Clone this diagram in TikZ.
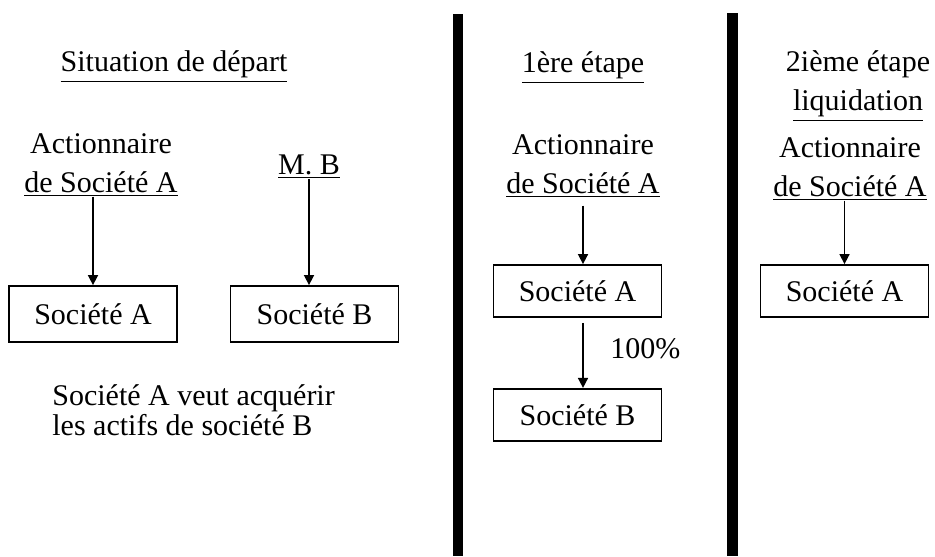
\documentclass[tikz,border=0pt]{standalone}
\usepackage{fontspec}
\setmainfont{Liberation Serif}
\usetikzlibrary{arrows.meta,positioning}

\begin{document}
\begin{tikzpicture}[
        x=0.5pt, y=-0.5pt,
        every node/.style={font=\fontsize{15}{19.5}\selectfont},
        txt/.style={align=center, inner sep=0pt, anchor=base},
        firma/.style={draw, line width=0.9pt, minimum width=84pt, minimum height=28pt, inner sep=0pt},
        arr/.style={-{Triangle[length=5pt,width=5pt]}, line width=0.8pt}
    ]
        \useasboundingbox (0,0) rectangle (935,556);

        % separateurs
        \fill (453,14) rectangle (463,556);
        \fill (727,13) rectangle (738,556);

        % situation de depart
        \node[txt] (titre1) at (174,72) {\underline{Situation de départ}};
        \node[txt] (act1) at (101,192) {Actionnaire\\\underline{de Société A}};
        \node[txt] (mb) at (309,174) {\underline{M. B}};
        \node[firma] (socA1) at (93,314) {Société A};
        \node[firma] (socB1) at (314.5,314) {Société B};
        \node[anchor=base west, align=left, inner sep=0pt, font=\fontsize{15}{15}\selectfont] (but) at (52,435) {Société A veut acquérir\\les actifs de société B};

        \draw[arr] (act1.south -| socA1.north) -- (socA1.north);
        \draw[arr] (mb.south) -- (mb.south |- socB1.north);

        % 1ere etape
        \node[txt] (titre2) at (583,73) {\underline{1ère étape}};
        \node[txt] (act2) at (583,193) {Actionnaire\\\underline{de Société A}};
        \node[firma, minimum height=26pt] (socA2) at (577.5,291) {Société A};
        \node[firma, minimum height=26pt, below=35pt of socA2] (socB2) {Société B};

        \draw[arr, shorten <=4pt] (act2.south) -- (act2.south |- socA2.north);
        \draw[arr, shorten <=2.5pt] (act2.south |- socA2.south) -- (act2.south |- socB2.north)
            node[midway, anchor=west, xshift=10pt, yshift=2.25pt] (pct) {100\%};

        % 2ieme etape
        \node[txt] (titre3) at (858,111) {2ième étape\\\underline{liquidation}};
        \node[txt] (act3) at (850,196) {Actionnaire\\\underline{de Société A}};
        \node[firma, minimum height=26pt] (socA3) at (844.5,291) {Société A};

        \draw[arr] (act3.south -| socA3.north) -- (socA3.north);
    \end{tikzpicture}
\end{document}
